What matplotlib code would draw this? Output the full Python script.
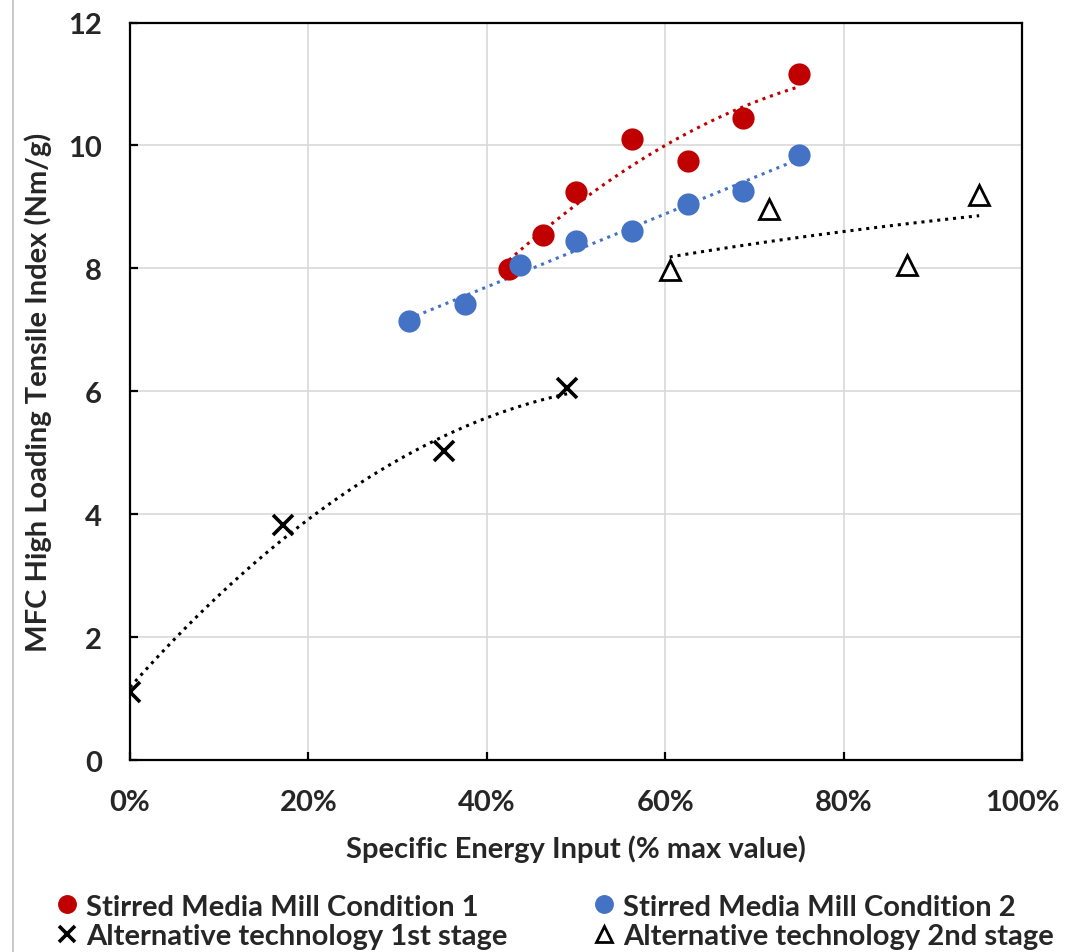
import numpy as np
import matplotlib
matplotlib.use("Agg")
import matplotlib.pyplot as plt
from matplotlib.lines import Line2D
from matplotlib.ticker import PercentFormatter

# Data (x = fraction of max specific energy, y = tensile index Nm/g)
smm1_x = [0.425, 0.4625, 0.5, 0.5625, 0.625, 0.6875, 0.75]
smm1_y = [7.99, 8.54, 9.24, 10.10, 9.75, 10.44, 11.16]

smm2_x = [0.3125, 0.375, 0.4375, 0.5, 0.5625, 0.625, 0.6875, 0.75]
smm2_y = [7.15, 7.42, 8.05, 8.45, 8.60, 9.05, 9.26, 9.84]

alt1_x = [0.0, 0.172, 0.352, 0.490]
alt1_y = [1.11, 3.82, 5.02, 6.06]

alt2_x = [0.605, 0.716, 0.871, 0.952]
alt2_y = [7.98, 8.97, 8.05, 9.20]

labels = ["Stirred Media Mill Condition 1", "Stirred Media Mill Condition 2",
          "Alternative technology 1st stage", "Alternative technology 2nd stage"]

red = "#C00000"
blue = "#4472C4"
font = "Lato"
txt = "#262626"
fs = 21

fig = plt.figure(figsize=(10.89, 9.53), dpi=100)
ax = fig.add_axes([130 / 1089, 1 - 761 / 953, 892 / 1089, 737.5 / 953])

# trendlines (excel-like)
def poly_line(xs, ys, deg):
    c = np.polyfit(xs, ys, deg)
    xx = np.linspace(min(xs), max(xs), 100)
    return xx, np.polyval(c, xx)

def log_line(xs, ys):
    c = np.polyfit(np.log(xs), ys, 1)
    xx = np.linspace(min(xs), max(xs), 100)
    return xx, np.polyval(c, np.log(xx))

tl_kw = dict(linestyle=(0, (1, 1.6)), linewidth=2.2, zorder=2)
xx, yy = poly_line(smm1_x, smm1_y, 2)
ax.plot(xx, yy, color=red, **tl_kw)
xx, yy = poly_line(smm2_x, smm2_y, 1)
ax.plot(xx, yy, color=blue, **tl_kw)
xx, yy = poly_line(alt1_x, alt1_y, 2)
ax.plot(xx, yy, color="black", **tl_kw)
xx, yy = log_line(alt2_x, alt2_y)
ax.plot(xx, yy, color="black", **tl_kw)

# markers
h1, = ax.plot(smm1_x, smm1_y, "o", color=red, markersize=16, mec="none", zorder=3)
h2, = ax.plot(smm2_x, smm2_y, "o", color=blue, markersize=16, mec="none", zorder=3)
h3, = ax.plot(alt1_x, alt1_y, "x", color="black", markersize=14, mew=2.6, zorder=3)
h4, = ax.plot(alt2_x, alt2_y, "^", mfc="white", mec="black", markersize=14, mew=2.0, zorder=3)

ax.set_xlim(0, 1)
ax.set_ylim(0, 12)
ax.set_xticks(np.arange(0, 1.01, 0.2))
ax.set_yticks(np.arange(0, 13, 2))
ax.xaxis.set_major_formatter(PercentFormatter(1.0, decimals=0))
ax.grid(True, color="#D9D9D9", linewidth=1.2)
ax.set_axisbelow(True)
for s in ax.spines.values():
    s.set_linewidth(1.6)
    s.set_color("black")
ax.tick_params(direction="in", length=6, width=1.6, labelsize=fs,
               top=False, right=False)
ax.tick_params(axis="y", pad=20)
ax.tick_params(axis="x", pad=21)
for t in ax.get_xticklabels() + ax.get_yticklabels():
    t.set_fontfamily(font)
    t.set_fontweight("bold")
    t.set_color(txt)

ax.set_xlabel("Specific Energy Input (% max value)", fontsize=fs, fontweight="bold",
              family=font, color=txt, labelpad=14)
ax.set_ylabel("MFC High Loading Tensile Index (Nm/g)", fontsize=fs, fontweight="bold",
              family=font, color=txt, labelpad=12)

# legend filled row by row: (1, 2) then (3, 4)
leg = fig.legend([h1, h3, h2, h4], [labels[0], labels[2], labels[1], labels[3]],
                 loc="upper left", bbox_to_anchor=(44 / 1089, 1 - 880 / 953), ncol=2,
                 frameon=False, handlelength=0.6, handletextpad=0.35,
                 columnspacing=3.0, labelspacing=0.12, markerscale=0.85,
                 borderpad=0, prop=dict(family=font, weight="bold", size=fs))
for t in leg.get_texts():
    t.set_color(txt)

# screenshot border on the left
fig.add_artist(Line2D([13 / 1089, 13 / 1089], [0, 1], color="#BFBFBF", linewidth=1.2))

fig.savefig("out.png", dpi=100)
